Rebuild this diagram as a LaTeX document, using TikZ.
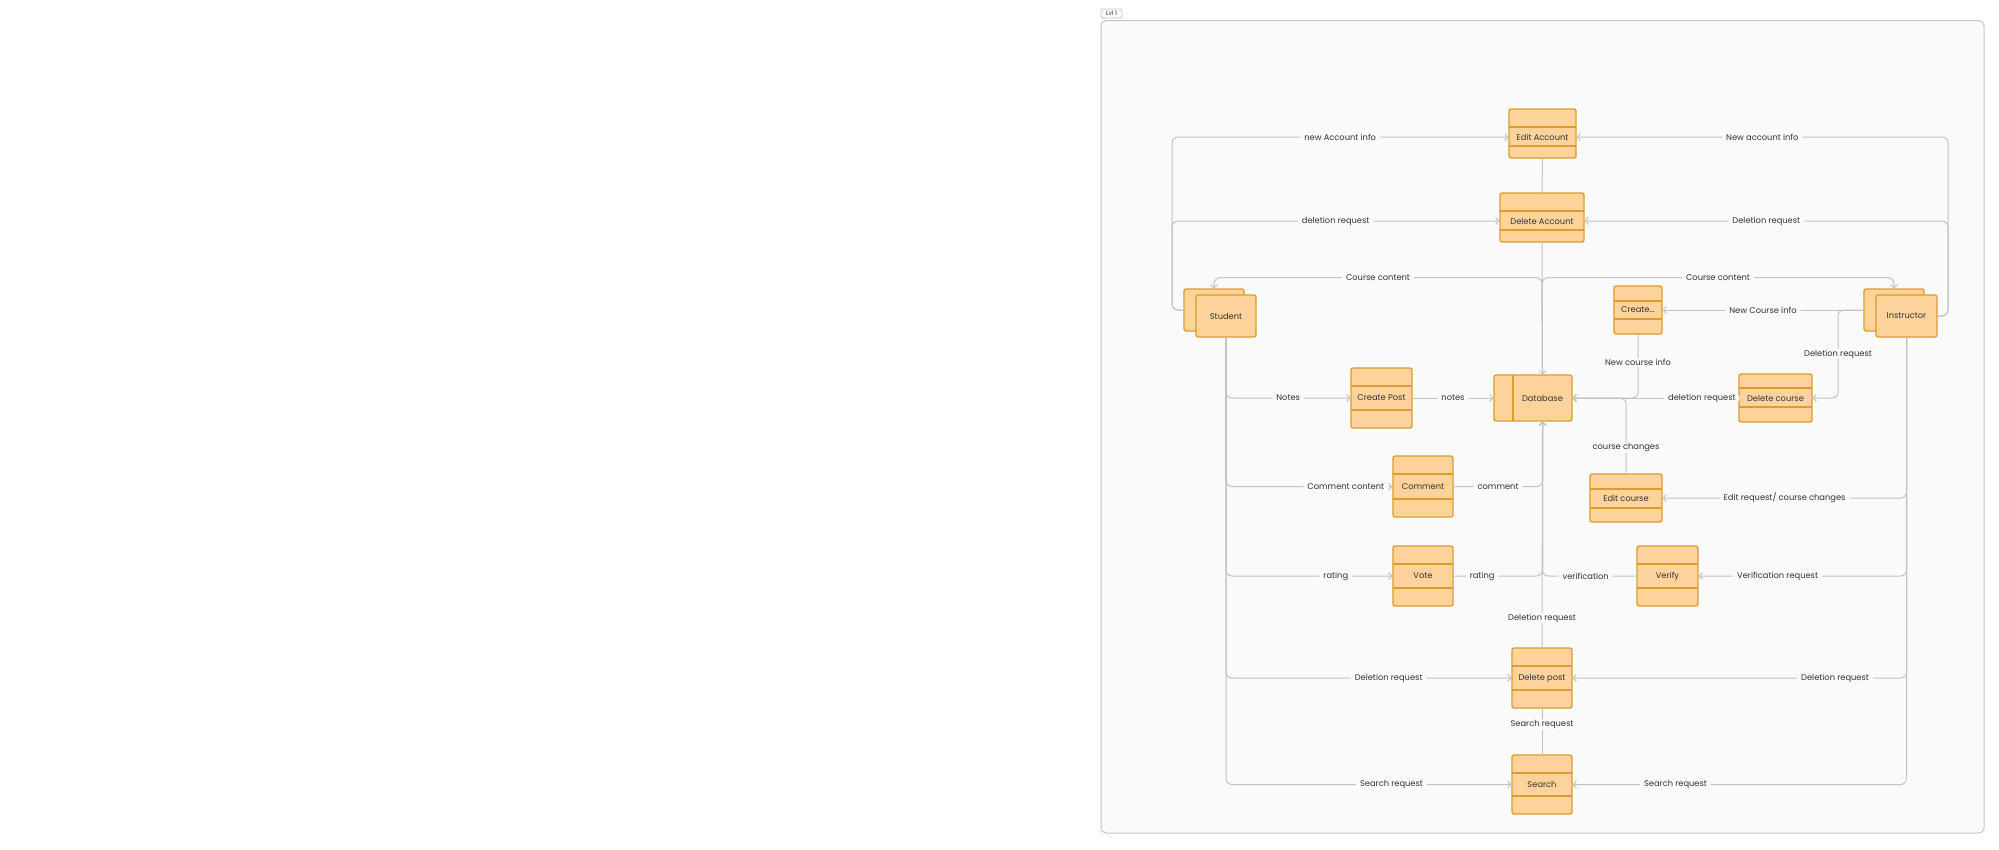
\documentclass[tikz,border=0pt]{standalone}
\usepackage{fontspec}
\setmainfont{Poppins}
\usetikzlibrary{arrows.meta,calc}
\definecolor{boxfill}{HTML}{FDD39B}
\definecolor{boxline}{HTML}{DC9C2E}
\definecolor{edgecol}{HTML}{C2C2C2}
\definecolor{bg}{HTML}{FAFAFA}
\definecolor{framecol}{HTML}{C6C6C6}
\definecolor{txt}{HTML}{333333}
\begin{document}
\begin{tikzpicture}[x=1pt,y=-1pt,
  boxtxt/.style={text=txt, font=\fontsize{8.3}{9}\selectfont},
  box/.style={draw=boxline, fill=boxfill, line width=1.3pt, rounded corners=2pt, inner sep=0pt, boxtxt},
  proc/.style 2 args={box, path picture={
      \draw[boxline,line width=1.3pt] ($(path picture bounding box.north west)+(0,#1)$) -- ($(path picture bounding box.north east)+(0,#1)$);
      \draw[boxline,line width=1.3pt] ($(path picture bounding box.north west)+(0,#2)$) -- ($(path picture bounding box.north east)+(0,#2)$);}},
  edge/.style={draw=edgecol, line width=1pt, rounded corners=6pt, -{Straight Barb[length=3pt,width=7pt]}},
  plainedge/.style={draw=edgecol, line width=1pt, rounded corners=6pt},
  lbl/.style={fill=bg, text=txt, font=\fontsize{8.3}{9}\selectfont, inner xsep=4pt, inner ysep=1pt},
]
\useasboundingbox (0,0) rectangle (1999,849);
\fill[white] (0,0) rectangle (1999,849);
% frame
\draw[framecol, fill=bg, line width=1pt, rounded corners=5pt] (1101,20.6) rectangle (1984,833);
\node[draw=framecol, fill=bg, line width=0.8pt, rounded corners=2pt, inner sep=0pt, minimum width=21pt, minimum height=9pt, text=txt, font=\fontsize{6}{6}\selectfont] (tag) at (1111.5,13.5) {Lvl 1};

% boxes
\node[proc={18}{37}, minimum width=67pt, minimum height=49pt, label={[boxtxt,yshift=-3.5pt]center:Edit Account}] (ea) at (1542.5,133.5) {};
\node[proc={18}{37}, minimum width=84pt, minimum height=49pt, label={[boxtxt,yshift=-3.5pt]center:Delete Account}] (da) at (1542,217.5) {};
\node[box, minimum width=60pt, minimum height=42pt] (stb) at (1214,310) {};
\node[box, minimum width=60pt, minimum height=42pt] (stf) at (1226,316) {Student};
\node[box, minimum width=60pt, minimum height=42pt] (inb) at (1894,310) {};
\node[box, minimum width=61pt, minimum height=42pt] (inf) at (1906.5,316) {Instructor};
\node[proc={15}{33}, minimum width=48pt, minimum height=48pt] (cr) at (1638,310) {Create...};
\node[proc={18}{42}, minimum width=61pt, minimum height=60pt] (cp) at (1381.5,398) {Create Post};
\node[box, minimum width=78pt, minimum height=46pt, path picture={
   \draw[boxline,line width=1.3pt] ($(path picture bounding box.north west)+(19,0)$) -- ($(path picture bounding box.south west)+(19,0)$);}] (db) at (1533,398) {\hspace*{19pt}Database};
\node[proc={14}{33}, minimum width=73pt, minimum height=48pt] (dc) at (1775.5,398) {Delete course};
\node[proc={18}{43}, minimum width=60pt, minimum height=61pt] (cm) at (1423,486.5) {Comment};
\node[proc={15}{34}, minimum width=72pt, minimum height=48pt] (ec) at (1626,498) {Edit course};
\node[proc={18}{42}, minimum width=60pt, minimum height=60pt] (vt) at (1423,576) {Vote};
\node[proc={18}{42}, minimum width=61pt, minimum height=60pt] (vf) at (1667.5,576) {Verify};
\node[proc={18}{42}, minimum width=60pt, minimum height=60pt] (dp) at (1542,678) {Delete post};
\node[proc={18}{41}, minimum width=60pt, minimum height=59pt] (sr) at (1542,784.5) {Search};

% helper coordinates
\coordinate (eaL) at ($(ea.west)+(0,3.5)$);
\coordinate (eaR) at ($(ea.east)+(0,3.5)$);
\coordinate (daL) at ($(da.west)+(0,3.5)$);
\coordinate (daR) at ($(da.east)+(0,3.5)$);
\coordinate (dbT) at ($(db.north)+(9.5,0)$);
\coordinate (dbB) at ($(db.south)+(9.5,0)$);
\coordinate (lx) at (1172,0);
\coordinate (rx) at (1948,0);
\coordinate (cc) at (1542,277.7);
\coordinate (dcx) at (1838,0);

% account edges
\draw[edge] (stb.west) -| (lx |- eaL) -- node[lbl]{new Account info} (eaL);
\draw[edge] (inf.east) -| (rx |- eaR) -- node[lbl]{New account info} (eaR);
\draw[edge] (stb.west) -| (lx |- daL) -- node[lbl]{deletion request} (daL);
\draw[edge] (inf.east) -| (rx |- daR) -- node[lbl]{Deletion request} (daR);
\draw[plainedge] (ea.south) -- (da.north);
\draw[edge] (da.south) -- (dbT);
% course content
\draw[edge] (dbT) -- (cc) -| node[lbl,pos=0.25]{Course content} (stb.north);
\draw[edge] (dbT) -- (cc) -| node[lbl,pos=0.25]{Course content} (inb.north);
% instructor course edges
\draw[edge] (inb.west) -- node[lbl]{New Course info} (cr.east);
\draw[edge] (inb.west) -| node[lbl,pos=0.75]{Deletion request} (dcx |- dc.east) -- (dc.east);
\draw[edge] (cr.south) |- node[lbl,pos=0.22]{New course info} (db.east);
\draw[edge] (dc.west) -- node[lbl,pos=0.22]{deletion request} (db.east);
\draw[edge] (ec.north) |- node[lbl,pos=0.17]{course changes} (db.east);
\draw[edge] (inf.south) |- node[lbl,pos=0.75]{Edit request/ course changes} (ec.east);
% student post edges
\draw[edge] (stf.south) |- node[lbl,pos=0.75]{Notes} (cp.west);
\draw[edge] (cp.east) -- node[lbl]{notes} (db.west);
\draw[edge] (stf.south) |- node[lbl,pos=0.86]{Comment content} (cm.west);
\draw[edge] (cm.east) -| node[lbl,pos=0.25]{comment} (dbB);
\draw[edge] (stf.south) |- node[lbl,pos=0.83]{rating} (vt.west);
\draw[edge] (vt.east) -| node[lbl,pos=0.16]{rating} (dbB);
\draw[edge] (vf.west) -| node[lbl,pos=0.27]{verification} (dbB);
\draw[edge] (inf.south) |- node[lbl,pos=0.81]{Verification request} (vf.east);
\draw[edge] (dp.north) -- node[lbl,pos=0.13]{Deletion request} (dbB);
\draw[edge] (stf.south) |- node[lbl,pos=0.785]{Deletion request} (dp.west);
\draw[edge] (inf.south) |- node[lbl,pos=0.607]{Deletion request} (dp.east);
\draw[plainedge] (dp.south) -- node[lbl,pos=0.35]{Search request} (sr.north);
\draw[edge] (stf.south) |- node[lbl,pos=0.79]{Search request} (sr.west);
\draw[edge] (inf.south) |- node[lbl,pos=0.846]{Search request} (sr.east);
\end{tikzpicture}
\end{document}
